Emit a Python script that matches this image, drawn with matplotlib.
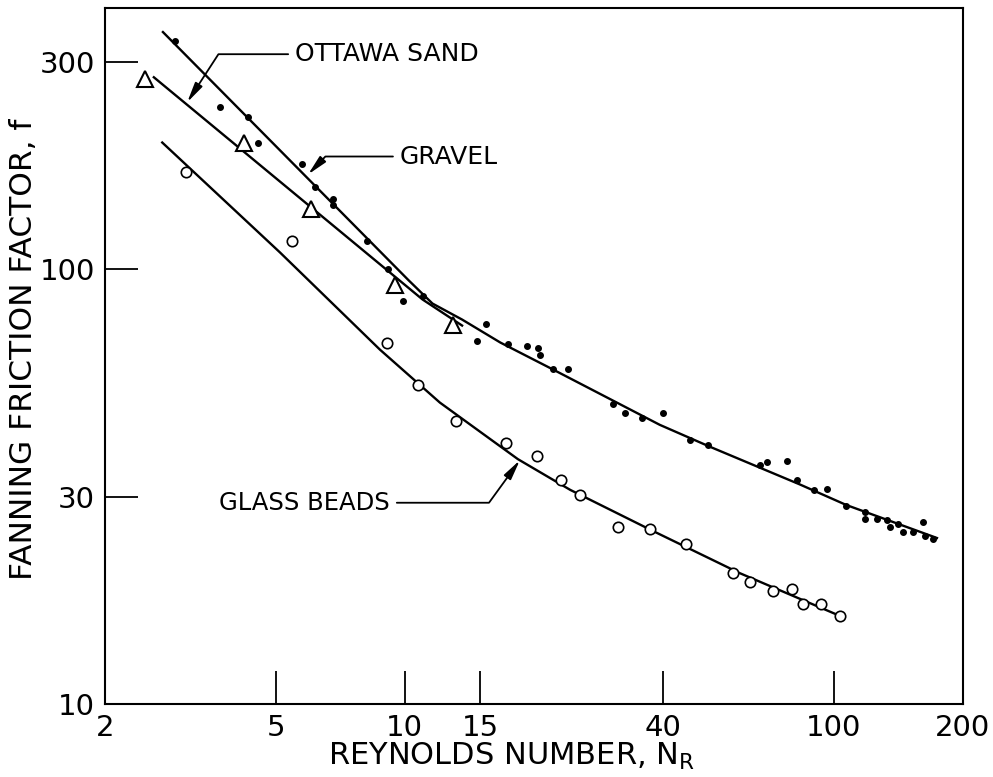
import numpy as np
import matplotlib
matplotlib.use('Agg')
import matplotlib.pyplot as plt
from matplotlib.ticker import NullLocator

# --- data (Reynolds number, Fanning friction factor) ---
# gravel (filled dots)
re_gravel = [2.91, 3.71, 4.31, 4.55, 5.76, 6.17, 6.80, 6.80, 8.16, 9.13, 9.90, 11.0,
             15.5, 14.7, 17.4, 19.3, 20.4, 20.7, 22.2, 24.0, 30.6, 32.6, 35.7, 40.0,
             46.2, 50.9, 67.3, 69.9, 77.8, 82.1, 89.9, 96.4, 107, 118, 118, 126,
             133, 135, 141, 145, 153, 161, 163, 170]
f_gravel = [335, 237, 224, 195, 175, 155, 145, 141, 116, 100, 84.8, 86.7,
            75.1, 68.6, 67.5, 66.8, 65.8, 63.4, 59.1, 59.1, 48.9, 46.8, 45.6, 46.8,
            40.6, 39.5, 35.5, 36.1, 36.3, 32.8, 31.0, 31.3, 28.6, 27.7, 26.7, 26.7,
            26.5, 25.6, 25.9, 24.9, 24.9, 26.3, 24.3, 24.0]
re_gravel_line = [2.73, 10.2, 11.6, 13.6, 16.7, 22.2, 39.3, 51.4, 83.4, 107, 174]
f_gravel_line = [352, 94.5, 83.5, 76.7, 67.9, 58.8, 43.9, 39.1, 32.0, 28.7, 24.1]

# ottawa sand (open triangles)
re_sand = [2.48, 4.22, 6.04, 9.48, 12.95]
f_sand = [275, 196, 137.5, 92.3, 74.7]
re_sand_line = [2.60, 11.0, 13.6]
f_sand_line = [277, 85.3, 74.3]

# glass beads (open circles)
re_glass = [3.09, 5.46, 9.09, 10.73, 13.16, 17.21, 20.3, 23.1, 25.6, 31.4, 37.3,
            45.2, 58.2, 63.7, 72.1, 79.9, 84.7, 93.3, 103.3]
f_glass = [168, 116, 67.9, 54.3, 44.9, 39.9, 37.3, 32.8, 30.2, 25.6, 25.3,
           23.3, 20.0, 19.1, 18.2, 18.4, 17.0, 17.0, 15.95]
re_glass_line = [2.72, 5.12, 8.75, 12.07, 18.35, 24.3, 37.3, 60.4, 103.3]
f_glass_line = [196, 109.4, 65.4, 49.4, 36.6, 31.1, 25.2, 20.0, 15.95]

xticks = [2, 5, 10, 15, 40, 100, 200]
yticks = [10, 30, 100, 300]

plt.rcParams['font.family'] = 'DejaVu Sans'

fig = plt.figure(figsize=(9.93, 7.77), dpi=100)
ax = fig.add_axes([0.1057, 0.094, 0.864, 0.8958])
ax.set_xscale('log')
ax.set_yscale('log')
ax.set_xlim(2, 200)
ax.set_ylim(10, 400)

ax.plot(re_gravel_line, f_gravel_line, color='k', lw=1.7)
ax.plot(re_sand_line, f_sand_line, color='k', lw=1.7)
ax.plot(re_glass_line, f_glass_line, color='k', lw=1.7)

ax.plot(re_gravel, f_gravel, 'o', color='k', ms=4, ls='none')
ax.plot(re_sand, f_sand, '^', mfc='white', mec='k', ms=12, mew=1.5, ls='none')
ax.plot(re_glass, f_glass, 'o', mfc='white', mec='k', ms=7.5, mew=1.2, ls='none')

ax.xaxis.set_minor_locator(NullLocator())
ax.yaxis.set_minor_locator(NullLocator())
ax.set_xticks(xticks)
ax.set_xticklabels([str(v) for v in xticks])
ax.set_yticks(yticks)
ax.set_yticklabels([str(v) for v in yticks])
ax.tick_params(direction='in', length=24, width=1.3, labelsize=21, pad=7,
               top=False, right=False)
for s in ax.spines.values():
    s.set_linewidth(1.5)

ax.set_xlabel('REYNOLDS NUMBER, N$_\\mathregular{R}$', fontsize=22)
ax.set_ylabel('FANNING FRICTION FACTOR, f', fontsize=22.5)
ax.xaxis.set_label_coords(0.474, -0.076)
ax.xaxis.label.set_va('center')
ax.yaxis.set_label_coords(-0.095, 0.51)
ax.yaxis.label.set_va('center')

arrow = dict(arrowstyle='-|>,head_length=1.2,head_width=0.25', color='k', lw=1.3,
             shrinkA=3, shrinkB=0, mutation_scale=10)
ax.annotate('OTTAWA SAND', xy=(3.11, 242.6), xytext=(5.55, 313), fontsize=18,
            ha='left', va='center',
            arrowprops=dict(arrow, connectionstyle='angle,angleA=0,angleB=57,rad=0'))
ax.annotate('GRAVEL', xy=(5.95, 165.5), xytext=(9.74, 182), fontsize=18,
            ha='left', va='center',
            arrowprops=dict(arrow, connectionstyle='angle,angleA=0,angleB=46,rad=0'))
ax.annotate('GLASS BEADS', xy=(18.55, 36.4), xytext=(9.23, 29.05), fontsize=17.5,
            ha='right', va='center',
            arrowprops=dict(arrow, connectionstyle='angle,angleA=0,angleB=54,rad=0'))

fig.savefig('out.png', dpi=100)
